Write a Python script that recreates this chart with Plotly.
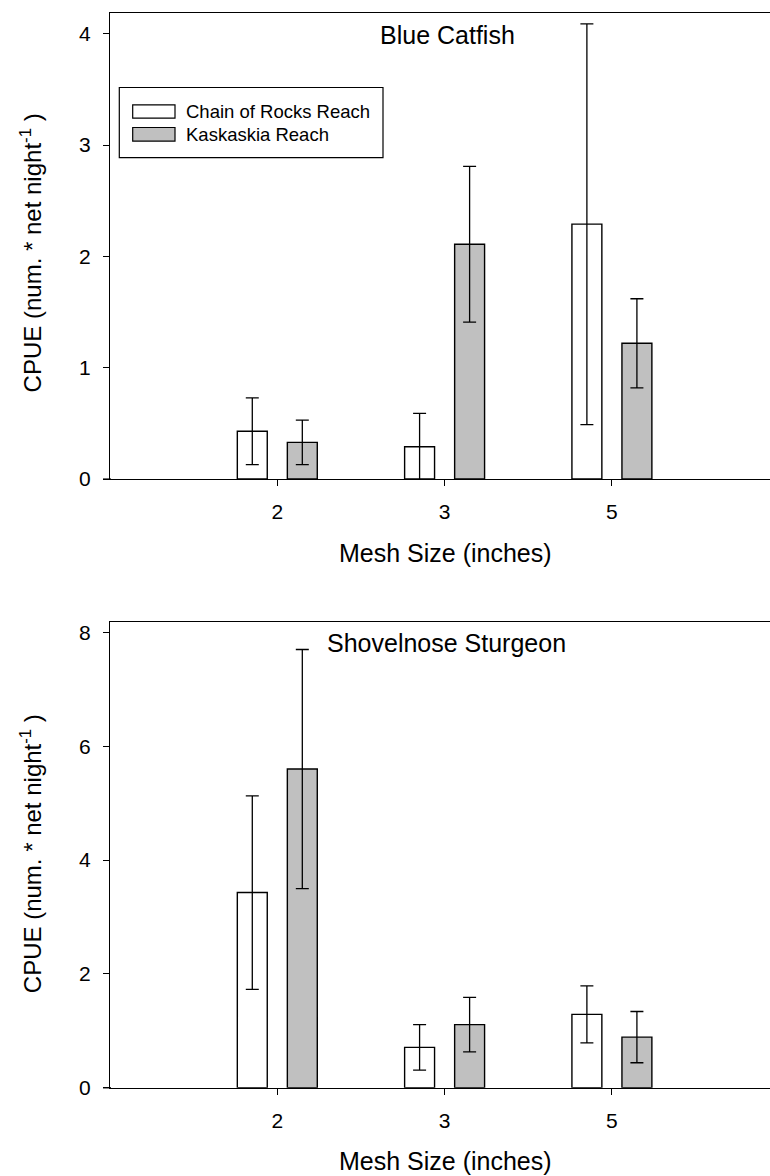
import plotly.graph_objects as go

# Mesh sizes (inches) on the category axis
mesh_sizes = ["2", "3", "5"]
mesh_pos = [1, 2, 3]

# Blue Catfish CPUE (mean and error) by reach
blue_chain = [0.43, 0.29, 2.29]
blue_chain_err = [0.30, 0.30, 1.80]
blue_kask = [0.33, 2.11, 1.22]
blue_kask_err = [0.20, 0.70, 0.40]

# Shovelnose Sturgeon CPUE (mean and error) by reach
shovel_chain = [3.43, 0.71, 1.29]
shovel_chain_err = [1.70, 0.40, 0.50]
shovel_kask = [5.60, 1.11, 0.89]
shovel_kask_err = [2.10, 0.48, 0.45]

reach_names = ["Chain of Rocks Reach", "Kaskaskia Reach"]
reach_fill = ["#FFFFFF", "#C0C0C0"]

W, H = 770, 1176
L = 110
FONT = "Liberation Sans, Arial, sans-serif"
INK = "#000000"


def px_x(px):
    return (px - L) / (W - L)


def px_y(py):
    return 1 - py / H


BAR_W = 0.179
OFFSETS = [-0.239, 0.060]

fig = go.Figure()

panels = [
    ("x", "y", [blue_chain, blue_kask], [blue_chain_err, blue_kask_err]),
    ("x2", "y2", [shovel_chain, shovel_kask], [shovel_chain_err, shovel_kask_err]),
]
for xa, ya, vals, errs in panels:
    for k in range(2):
        fig.add_trace(go.Bar(
            x=mesh_pos, y=vals[k], name=reach_names[k],
            xaxis=xa, yaxis=ya,
            width=BAR_W, offset=OFFSETS[k],
            marker=dict(color=reach_fill[k], line=dict(color=INK, width=1.4)),
            error_y=dict(type="data", array=errs[k], visible=True,
                         color=INK, thickness=1.3, width=6.5),
            showlegend=False,
        ))

xcommon = dict(
    range=[0, (W - L) / 167.3], tickvals=mesh_pos, ticktext=mesh_sizes,
    showline=True, linecolor=INK, linewidth=1.3, mirror=True,
    ticks="outside", ticklen=6, tickwidth=1.3, tickcolor=INK,
    showgrid=False, zeroline=False, domain=[0, 1],
    tickfont=dict(family=FONT, size=21, color=INK),
    ticklabelstandoff=8,
)
ycommon = dict(
    showline=True, linecolor=INK, linewidth=1.3,
    ticks="outside", ticklen=6, tickwidth=1.3, tickcolor=INK,
    showgrid=False, zeroline=False,
    tickfont=dict(family=FONT, size=21, color=INK),
    ticklabelstandoff=8,
)

top_y0, top_y1 = 483, 11.8
bot_y0, bot_y1 = 1098, 627

fig.update_layout(
    width=W, height=H,
    margin=dict(l=L, r=0, t=0, b=0),
    paper_bgcolor="white", plot_bgcolor="white",
    barmode="overlay",
    xaxis=dict(anchor="y", **xcommon),
    xaxis2=dict(anchor="y2", **xcommon),
    yaxis=dict(anchor="x", domain=[px_y(top_y0), px_y(top_y1)],
               range=[0, 4.19], tickvals=[0, 1, 2, 3, 4], **ycommon),
    yaxis2=dict(anchor="x2", domain=[px_y(bot_y0), px_y(bot_y1)],
                range=[0, 8.19], tickvals=[0, 2, 4, 6, 8], **ycommon),
)

ann = []
shapes = []

# Panel titles
ann.append(dict(text="Blue Catfish", xref="x", yref="y", x=2.02, y=3.99,
                showarrow=False, xanchor="center", yanchor="middle",
                font=dict(family=FONT, size=25, color=INK)))
ann.append(dict(text="Shovelnose Sturgeon", xref="x2", yref="y2", x=2.01, y=7.82,
                showarrow=False, xanchor="center", yanchor="middle",
                font=dict(family=FONT, size=25, color=INK)))

# Axis titles
for cy in (558, 1172):
    ann.append(dict(text="Mesh Size (inches)", xref="paper", yref="paper",
                    x=px_x(445), y=px_y(cy), showarrow=False,
                    xanchor="center", yanchor="middle",
                    font=dict(family=FONT, size=25, color=INK)))
for cy in (255, 862):
    ann.append(dict(text="CPUE (num. * net night<sup>-1</sup> )",
                    xref="paper", yref="paper", x=px_x(31), y=px_y(cy),
                    textangle=-90, showarrow=False,
                    xanchor="center", yanchor="middle",
                    font=dict(family=FONT, size=24, color=INK)))

# Baselines run a little past the value axis on the left
for by in (top_y0, bot_y0):
    shapes.append(dict(type="line", xref="paper", yref="paper",
                       x0=px_x(103), x1=px_x(111), y0=px_y(by), y1=px_y(by),
                       line=dict(color=INK, width=1.3)))

# Legend box with wide swatches
shapes.append(dict(type="rect", xref="paper", yref="paper",
                   x0=px_x(119.3), x1=px_x(383), y0=px_y(158.3), y1=px_y(87.4),
                   line=dict(color=INK, width=1.2), fillcolor="white", layer="above"))
sw_rows = [(104.9, 118.3), (127.8, 141.5)]
for k, (t, b) in enumerate(sw_rows):
    shapes.append(dict(type="rect", xref="paper", yref="paper",
                       x0=px_x(132.7), x1=px_x(175), y0=px_y(b), y1=px_y(t),
                       line=dict(color=INK, width=1.2), fillcolor=reach_fill[k],
                       layer="above"))
    ann.append(dict(text=reach_names[k], xref="paper", yref="paper",
                    x=px_x(184), y=px_y((t + b) / 2), showarrow=False,
                    xanchor="left", yanchor="middle",
                    font=dict(family=FONT, size=18.5, color=INK)))

fig.update_layout(annotations=ann, shapes=shapes)

fig.write_html("out.html")
